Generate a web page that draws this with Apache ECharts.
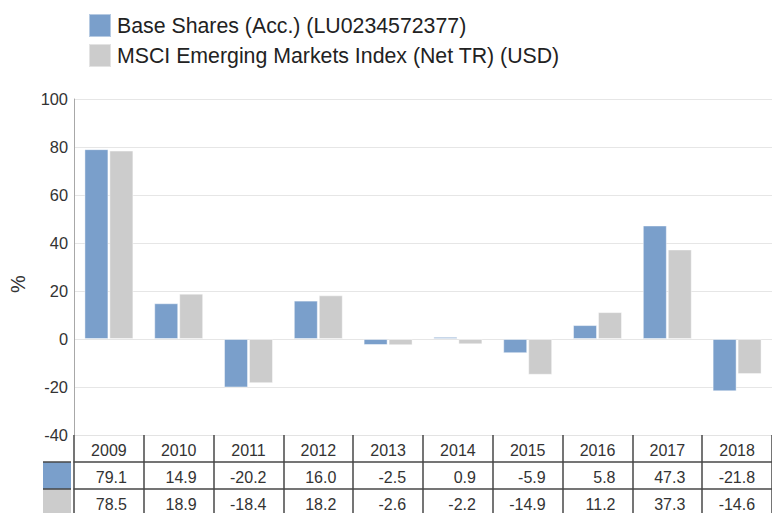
<!DOCTYPE html>
<html>
<head>
<meta charset="utf-8">
<script src="https://cdn.jsdelivr.net/npm/echarts@6/dist/echarts.min.js"></script>
<style>
html,body{margin:0;padding:0;background:#fff;}
#chart{width:772px;height:513px;}
</style>
</head>
<body>
<div id="chart"></div>
<script>
const years = ['2009','2010','2011','2012','2013','2014','2015','2016','2017','2018'];
const fundName = 'Base Shares (Acc.) (LU0234572377)';
const indexName = 'MSCI Emerging Markets Index (Net TR) (USD)';
const fundValues = [79.1, 14.9, -20.2, 16.0, -2.5, 0.9, -5.9, 5.8, 47.3, -21.8];
const indexValues = [78.5, 18.9, -18.4, 18.2, -2.6, -2.2, -14.9, 11.2, 37.3, -14.6];
const yTicks = [-40, -20, 0, 20, 40, 60, 80, 100];

const FONT = 'Liberation Sans, Arial, sans-serif';
const BLUE = '#7a9fcb';
const GREY = '#cccccc';
const TABLE_LINE = '#474747';

const chart = echarts.init(document.getElementById('chart'), null, {renderer: 'svg'});

function valueAxis(vals, offset, tickLen) {
  return {
    type: 'category',
    gridIndex: 0,
    position: 'bottom',
    offset: offset,
    data: years,
    boundaryGap: true,
    axisLine: {show: true, onZero: false, lineStyle: {color: TABLE_LINE, width: 1.5}},
    axisTick: {show: true, interval: 0, length: tickLen, lineStyle: {color: TABLE_LINE, width: 1.5}},
    axisLabel: {
      interval: 0, margin: 7.5,
      formatter: (v, i) => '{v|' + vals[i].toFixed(1) + '}',
      rich: {v: {width: 36, align: 'right', fontSize: 16, lineHeight: 16, color: '#333', fontFamily: FONT}}
    },
    splitLine: {show: false}
  };
}

const option = {
  animation: false,
  backgroundColor: '#fff',
  textStyle: {fontFamily: FONT},
  legend: {
    orient: 'vertical',
    left: 88, top: 13,
    padding: 0,
    itemWidth: 22, itemHeight: 23, itemGap: 5,
    icon: 'rect',
    textStyle: {fontSize: 21.3, color: '#222', fontFamily: FONT, padding: [0, 0, 0, 1]},
    data: [fundName, indexName]
  },
  grid: {left: 71, top: 99, width: 705, height: 336, containLabel: false},
  xAxis: [
    {
      type: 'category',
      data: years,
      position: 'bottom',
      boundaryGap: true,
      axisLine: {show: true, onZero: false, lineStyle: {color: '#e3e3e3', width: 1}},
      axisTick: {show: true, interval: 0, length: 27, lineStyle: {color: TABLE_LINE, width: 1.5}},
      axisLabel: {interval: 0, margin: 7.5, fontSize: 16, lineHeight: 16, color: '#333', fontFamily: FONT},
      splitLine: {show: false}
    },
    valueAxis(fundValues, 27, 27),
    valueAxis(indexValues, 54, 30)
  ],
  yAxis: {
    type: 'value',
    min: yTicks[0], max: yTicks[yTicks.length - 1], interval: 20,
    name: '%',
    nameLocation: 'middle',
    nameRotate: 90,
    nameGap: 46,
    nameTextStyle: {fontSize: 20, color: '#333', fontFamily: FONT, padding: [0, 34, 0, 0]},
    axisLine: {show: true, lineStyle: {color: '#a8a8a8', width: 1}},
    axisTick: {show: false},
    axisLabel: {margin: 6, fontSize: 16.4, color: '#333', fontFamily: FONT},
    splitLine: {show: true, lineStyle: {color: '#e6e6e6', width: 1}}
  },
  series: [
    {
      name: fundName, type: 'bar', xAxisIndex: 0, data: fundValues,
      barWidth: 24, barGap: '4%',
      itemStyle: {color: BLUE, borderColor: 'rgba(255,255,255,0.45)', borderWidth: 1}
    },
    {
      name: indexName, type: 'bar', xAxisIndex: 0, data: indexValues,
      barWidth: 24, barGap: '4%',
      itemStyle: {color: GREY, borderColor: 'rgba(255,255,255,0.45)', borderWidth: 1}
    }
  ],
  graphic: [
    {type: 'rect', shape: {x: 43, y: 462, width: 28, height: 27}, style: {fill: BLUE}, silent: true},
    {type: 'rect', shape: {x: 43, y: 489, width: 28, height: 26}, style: {fill: GREY}, silent: true},
    {type: 'line', shape: {x1: 43, y1: 462, x2: 71, y2: 462}, style: {stroke: TABLE_LINE, lineWidth: 1.5}, silent: true},
    {type: 'line', shape: {x1: 43, y1: 489, x2: 71, y2: 489}, style: {stroke: TABLE_LINE, lineWidth: 1.5}, silent: true}
  ]
};
chart.setOption(option);
</script>
</body>
</html>
